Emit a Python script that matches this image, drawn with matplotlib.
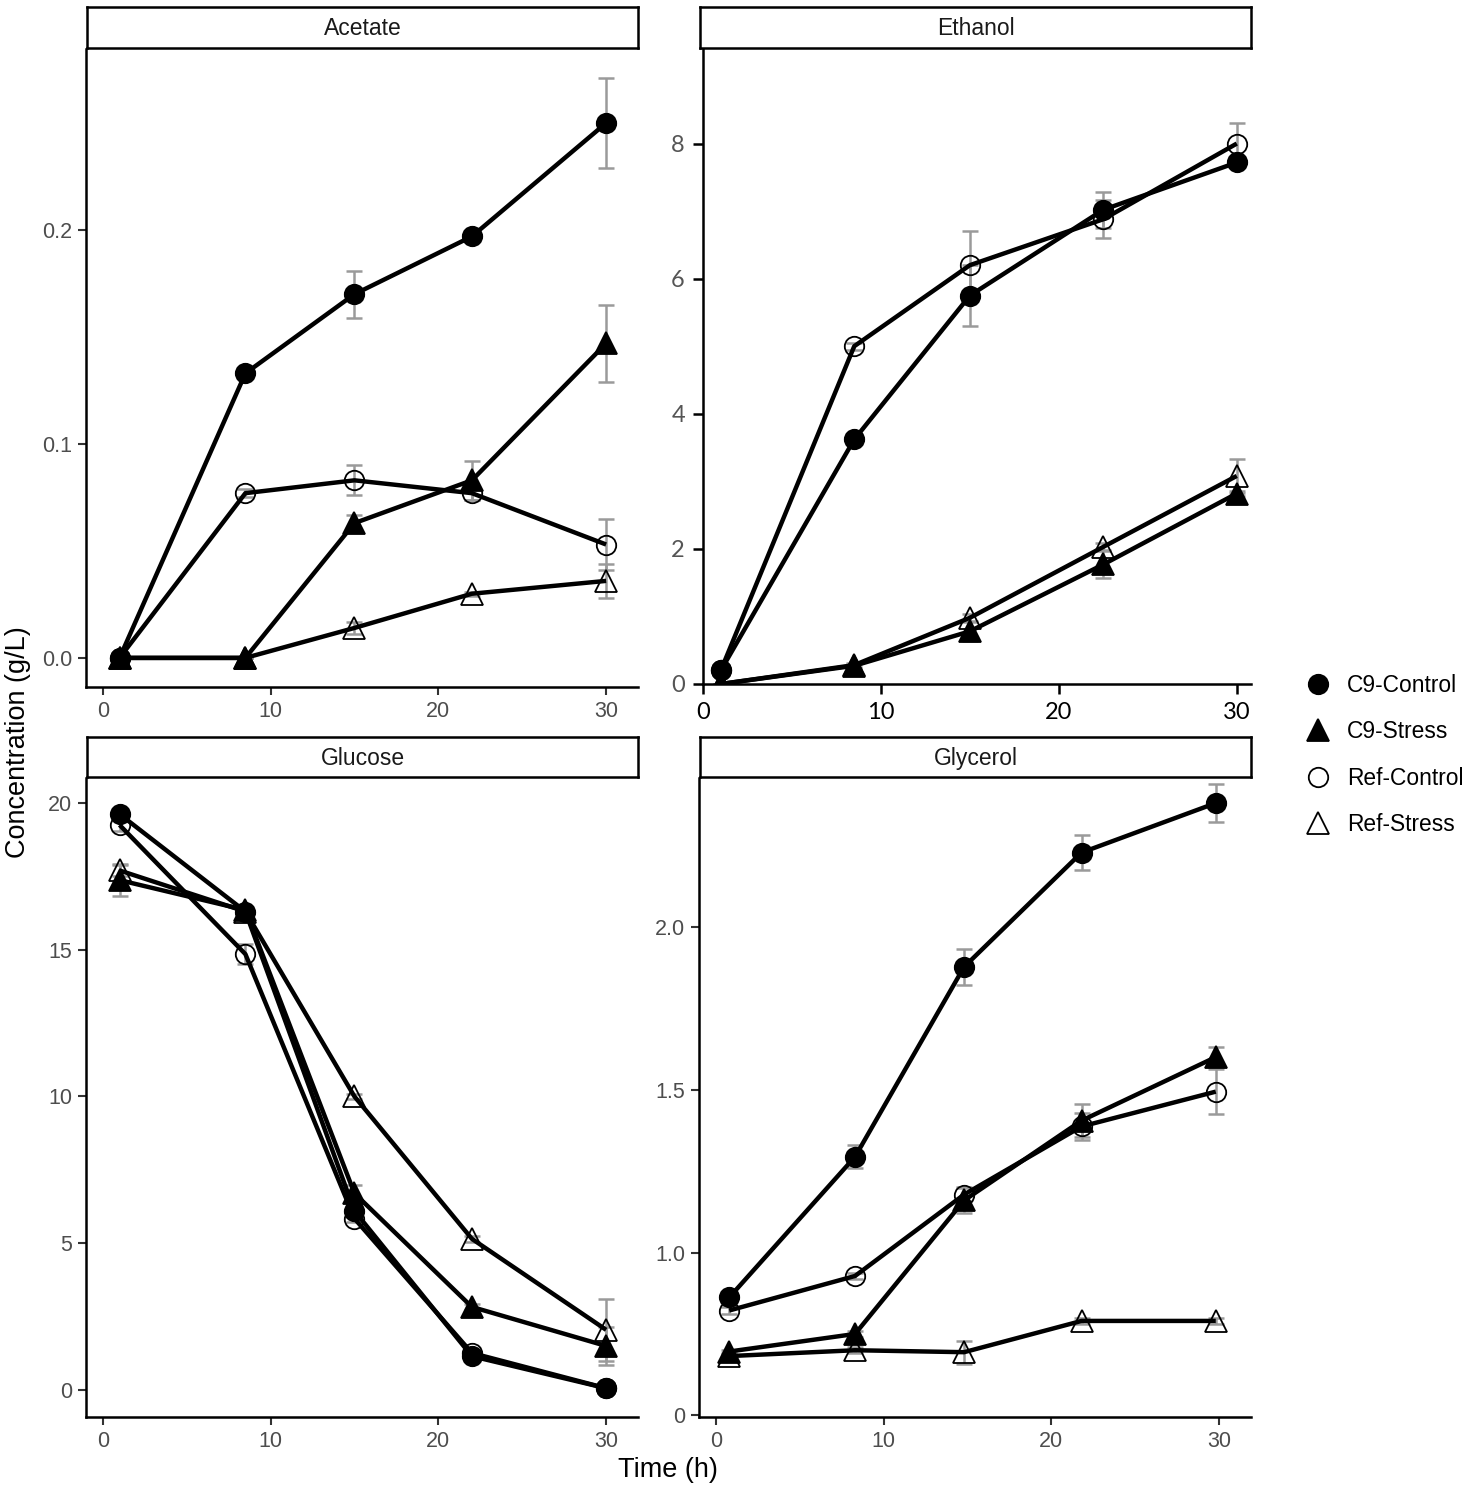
import matplotlib
matplotlib.use("Agg")
import matplotlib.pyplot as plt
from matplotlib.lines import Line2D

W, H = 1477, 1492
DPI = 100

series_names = ["C9-Control", "C9-Stress", "Ref-Control", "Ref-Stress"]

# ---------------- data ----------------
acetate_time = [1, 8.5, 15, 22, 30]
acetate_c9_control = [0.0, 0.133, 0.170, 0.197, 0.250]
acetate_c9_control_err = [0.0, 0.002, 0.011, 0.002, 0.021]
acetate_c9_stress = [0.0, 0.0, 0.063, 0.083, 0.147]
acetate_c9_stress_err = [0.0, 0.0, 0.004, 0.009, 0.018]
acetate_ref_control = [0.0, 0.077, 0.083, 0.077, 0.053]
acetate_ref_control_err = [0.0, 0.002, 0.007, 0.003, 0.012]
acetate_ref_stress = [0.0, 0.0, 0.014, 0.030, 0.036]
acetate_ref_stress_err = [0.0, 0.0, 0.003, 0.001, 0.008]

ethanol_time = [1, 8.5, 15, 22.5, 30]
ethanol_c9_control = [0.2, 3.62, 5.75, 7.02, 7.72]
ethanol_c9_control_err = [0.0, 0.03, 0.45, 0.27, 0.05]
ethanol_c9_stress = [0.0, 0.27, 0.78, 1.77, 2.82]
ethanol_c9_stress_err = [0.0, 0.03, 0.14, 0.20, 0.04]
ethanol_ref_control = [0.2, 5.0, 6.2, 6.88, 8.0]
ethanol_ref_control_err = [0.0, 0.05, 0.50, 0.28, 0.30]
ethanol_ref_stress = [0.0, 0.28, 0.98, 2.03, 3.08]
ethanol_ref_stress_err = [0.0, 0.03, 0.05, 0.05, 0.25]

glucose_time = [1, 8.5, 15, 22, 30]
glucose_c9_control = [19.62, 16.3, 6.1, 1.15, 0.06]
glucose_c9_control_err = [0.1, 0.1, 0.2, 0.1, 0.05]
glucose_c9_stress = [17.37, 16.35, 6.7, 2.83, 1.5]
glucose_c9_stress_err = [0.55, 0.1, 0.3, 0.1, 0.65]
glucose_ref_control = [19.25, 14.85, 5.84, 1.26, 0.06]
glucose_ref_control_err = [0.2, 0.35, 0.1, 0.1, 0.05]
glucose_ref_stress = [17.7, 16.3, 10.0, 5.15, 2.05]
glucose_ref_stress_err = [0.2, 0.1, 0.1, 0.1, 1.05]

glycerol_time = [0.8, 8.3, 14.8, 21.8, 29.8]
glycerol_c9_control = [0.862, 1.294, 1.877, 2.228, 2.380]
glycerol_c9_control_err = [0.01, 0.035, 0.055, 0.055, 0.058]
glycerol_c9_stress = [0.696, 0.750, 1.160, 1.405, 1.600]
glycerol_c9_stress_err = [0.005, 0.01, 0.04, 0.05, 0.03]
glycerol_ref_control = [0.822, 0.928, 1.178, 1.387, 1.494]
glycerol_ref_control_err = [0.012, 0.01, 0.02, 0.04, 0.07]
glycerol_ref_stress = [0.682, 0.700, 0.694, 0.790, 0.790]
glycerol_ref_stress_err = [0.005, 0.01, 0.035, 0.01, 0.01]

x_ticks = [0, 10, 20, 30]
acetate_yticks = [0.0, 0.1, 0.2]
acetate_ylabels = ["0.0", "0.1", "0.2"]
ethanol_yticks = [0, 2, 4, 6, 8]
ethanol_ylabels = ["0", "2", "4", "6", "8"]
glucose_yticks = [0, 5, 10, 15, 20]
glucose_ylabels = ["0", "5", "10", "15", "20"]
glycerol_yticks = [0.5, 1.0, 1.5, 2.0]
glycerol_ylabels = ["0", "1.0", "1.5", "2.0"]

panels = {
    "Acetate": (acetate_time,
                [acetate_c9_control, acetate_c9_stress, acetate_ref_control, acetate_ref_stress],
                [acetate_c9_control_err, acetate_c9_stress_err, acetate_ref_control_err, acetate_ref_stress_err]),
    "Ethanol": (ethanol_time,
                [ethanol_c9_control, ethanol_c9_stress, ethanol_ref_control, ethanol_ref_stress],
                [ethanol_c9_control_err, ethanol_c9_stress_err, ethanol_ref_control_err, ethanol_ref_stress_err]),
    "Glucose": (glucose_time,
                [glucose_c9_control, glucose_c9_stress, glucose_ref_control, glucose_ref_stress],
                [glucose_c9_control_err, glucose_c9_stress_err, glucose_ref_control_err, glucose_ref_stress_err]),
    "Glycerol": (glycerol_time,
                 [glycerol_c9_control, glycerol_c9_stress, glycerol_ref_control, glycerol_ref_stress],
                 [glycerol_c9_control_err, glycerol_c9_stress_err, glycerol_ref_control_err, glycerol_ref_stress_err]),
}

# ---------------- styles ----------------
styles = {
    "C9-Control": dict(marker="o", mfc="black", ms=14),
    "C9-Stress": dict(marker="^", mfc="black", ms=16.5),
    "Ref-Control": dict(marker="o", mfc="none", ms=14),
    "Ref-Stress": dict(marker="^", mfc="none", ms=16.5),
}

# layout in pixel coords: (left, top, right, bottom)
layout = {
    "Acetate": dict(box=(86, 49, 638, 687), strip=(87, 7, 638, 48),
                    xlim=(-1.0, 31.9), ylim=(-0.0136, 0.2846),
                    yt=acetate_yticks, yl=acetate_ylabels, alt=False),
    "Ethanol": dict(box=(703, 49, 1251, 684), strip=(700, 7, 1251, 48),
                    xlim=(0.0, 30.8), ylim=(0.0, 9.4),
                    yt=ethanol_yticks, yl=ethanol_ylabels, alt=True),
    "Glucose": dict(box=(86, 778, 638, 1417), strip=(87, 737, 638, 777),
                    xlim=(-1.0, 31.9), ylim=(-0.92, 20.85),
                    yt=glucose_yticks, yl=glucose_ylabels, alt=False),
    "Glycerol": dict(box=(699, 778, 1251, 1417), strip=(700, 737, 1251, 777),
                     xlim=(-1.0, 31.9), ylim=(0.495, 2.457),
                     yt=glycerol_yticks, yl=glycerol_ylabels, alt=False),
}


def frac(l, t, r, b):
    return [l / W, 1 - b / H, (r - l) / W, (b - t) / H]


fig = plt.figure(figsize=(W / DPI, H / DPI), dpi=DPI)
base_font = "Liberation Sans"
plt.rcParams["font.family"] = [base_font, "DejaVu Sans"]

for name, (t, vals, errs) in panels.items():
    lay = layout[name]
    ax = fig.add_axes(frac(*lay["box"]))
    for sname, v, e in zip(series_names, vals, errs):
        ax.errorbar(t, v, yerr=e, fmt="none", ecolor="#9a9a9a", elinewidth=1.8,
                    capsize=6, capthick=1.8, zorder=1)
    for sname, v in zip(series_names, vals):
        ax.plot(t, v, color="black", lw=3.2, zorder=2, solid_capstyle="butt")
    for sname, v in zip(series_names, vals):
        st = styles[sname]
        ax.plot(t, v, linestyle="none", marker=st["marker"], ms=st["ms"],
                mfc=st["mfc"], mec="black", mew=1.3, zorder=3)
    ax.set_xlim(*lay["xlim"])
    ax.set_ylim(*lay["ylim"])
    ax.set_xticks(x_ticks)
    ax.set_yticks(lay["yt"])
    ax.set_yticklabels(lay["yl"])
    for s in ["top", "right"]:
        ax.spines[s].set_visible(False)
    for s in ["left", "bottom"]:
        ax.spines[s].set_linewidth(1.8)
        ax.spines[s].set_color("black")
    if lay["alt"]:
        ax.tick_params(axis="both", length=7, width=1.8, color="black", pad=6)
        for lab in ax.get_xticklabels():
            lab.set_fontfamily(["Lato", "DejaVu Sans"])
            lab.set_fontsize(17)
            lab.set_color("black")
        for lab in ax.get_yticklabels():
            lab.set_fontfamily(["Lato", "DejaVu Sans"])
            lab.set_fontsize(17)
            lab.set_color("#555555")
    else:
        ax.tick_params(axis="both", length=6, width=1.5, color="#333333",
                       labelsize=15.5, labelcolor="#4D4D4D", pad=4)
    # strip
    sax = fig.add_axes(frac(*lay["strip"]))
    sax.set_xticks([])
    sax.set_yticks([])
    for s in sax.spines.values():
        s.set_linewidth(1.8)
        s.set_color("black")
    sax.text(0.5, 0.47, name, ha="center", va="center", fontsize=16.5,
             color="#1A1A1A", transform=sax.transAxes)

fig.text(18 / W, 1 - 742 / H, "Concentration (g/L)", rotation=90,
         ha="center", va="center", fontsize=19.5, color="black")
fig.text(668 / W, 1 - 1470 / H, "Time (h)", ha="center", va="center",
         fontsize=19.5, color="black")

handles = [Line2D([], [], linestyle="none", marker=styles[s]["marker"],
                  ms=styles[s]["ms"], mfc=styles[s]["mfc"], mec="black", mew=1.3)
           for s in series_names]
fig.legend(handles, series_names, loc="center left",
           bbox_to_anchor=(1292 / W, 1 - 755 / H), frameon=False,
           fontsize=16.4, labelspacing=1.02, handletextpad=0.5,
           handlelength=1.5, borderaxespad=0)

fig.savefig("out.png", dpi=DPI)
